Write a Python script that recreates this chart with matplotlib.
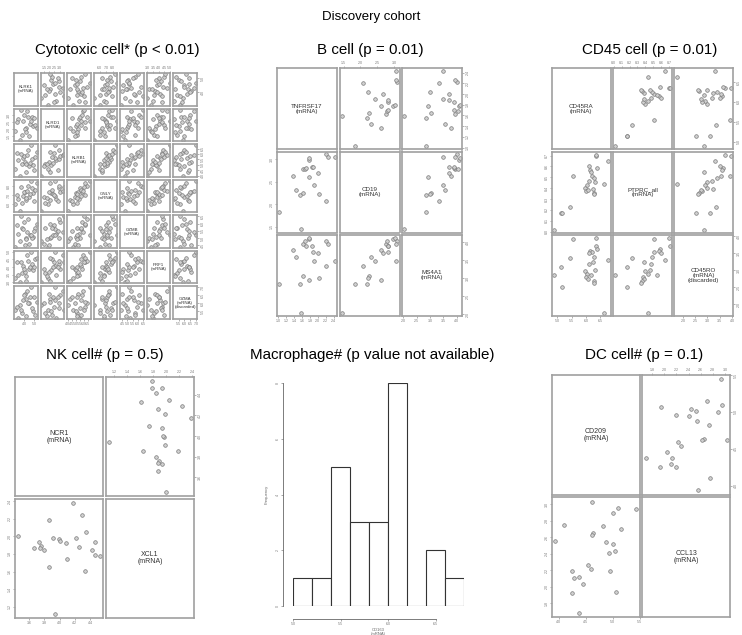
import matplotlib
matplotlib.use('Agg')
import matplotlib.pyplot as plt
from matplotlib.ticker import MultipleLocator, FormatStrFormatter

plt.rcParams['font.family'] = ['Liberation Sans', 'DejaVu Sans']

W, H = 742, 635
TITLE_FS = 10.9

# ── data (arbitrary log-expression units) ───────────────────────────────────
# Cytotoxic cell panel (7 markers)
KLRK1 = [3.6, 3.1, 4.2, 3.8, 4.5, 3.4, 4.9, 3.9, 4.1, 4.6, 3.3, 4.8, 4.0, 5.1, 4.4, 4.3, 5.3, 3.7, 4.7, 4.2, 5.0]
KLRD1 = [1.2, 1.9, 2.1, 1.6, 1.5, 2.7, 2.2, 2.6, 2.0, 2.4, 2.5, 2.9, 3.0, 2.3, 2.9, 3.3, 2.1, 3.4, 2.6, 1.8, 2.8]
KLRB1 = [4.0, 4.6, 4.3, 5.1, 4.9, 5.4, 5.0, 5.6, 5.3, 5.2, 6.1, 5.5, 5.8, 5.7, 6.4, 5.9, 6.2, 6.0, 6.8, 5.1, 4.5]
GNLY  = [5.2, 6.0, 6.4, 6.1, 6.8, 6.6, 7.2, 6.9, 7.4, 7.1, 7.0, 7.8, 7.3, 7.6, 8.0, 7.5, 8.3, 7.9, 8.6, 6.7, 6.3]
GZMB  = [4.8, 4.4, 5.0, 5.7, 4.6, 5.3, 5.1, 5.6, 4.5, 5.2, 5.9, 5.0, 6.1, 5.7, 6.3, 5.4, 6.0, 6.5, 5.2, 4.9, 5.5]
PRF1  = [3.0, 3.3, 3.1, 3.6, 3.9, 3.5, 3.8, 4.1, 3.7, 4.0, 4.3, 4.2, 3.9, 4.5, 4.4, 4.8, 4.6, 4.3, 5.0, 3.4, 4.0]
GZMA  = [5.9, 5.6, 6.3, 5.4, 6.0, 5.1, 5.5, 6.2, 6.6, 6.4, 5.8, 5.7, 6.5, 5.3, 6.0, 6.8, 6.1, 5.6, 7.0, 5.2, 6.4]

# B cell panel
TNFRSF17 = [1.03, 1.37, 1.45, 1.55, 1.59, 1.62, 1.64, 1.68, 1.71, 1.77, 1.77, 1.79, 1.86, 1.89,
            1.90, 2.00, 2.03, 2.20, 2.22, 2.26, 2.43]
CD19     = [1.83, 2.62, 2.32, 2.20, 1.44, 2.77, 2.25, 2.79, 2.81, 2.98, 2.61, 3.02, 2.83, 2.83,
            2.42, 2.68, 2.23, 2.08, 3.10, 3.05, 3.05]
MS4A1    = [2.84, 3.79, 3.58, 2.84, 2.03, 3.95, 3.05, 4.05, 3.91, 4.09, 2.94, 4.12, 3.90, 3.72,
            3.49, 3.70, 3.01, 3.33, 4.03, 3.94, 3.49]

# CD45 cell panel
CD45RA    = [6.36, 5.54, 6.34, 6.37, 6.15, 6.21, 6.09, 6.26, 5.43, 6.23, 6.78, 6.11,
             5.14, 6.30, 5.95, 6.03, 6.18, 4.89, 6.00, 6.07, 6.28, 6.29, 5.15, 6.62]
PTPRC_ALL = [8.70, 8.51, 8.71, 8.59, 8.57, 8.51, 8.60, 8.49, 8.23, 8.39, 8.65, 8.47,
             8.17, 8.46, 8.40, 8.43, 8.55, 8.02, 8.37, 8.38, 8.36, 8.35, 8.17, 8.44]
CD45RO    = [3.95, 3.93, 3.70, 3.63, 3.58, 3.53, 3.51, 3.39, 3.35, 3.24, 3.29, 3.17,
             3.11, 3.00, 2.97, 2.89, 2.86, 2.85, 2.79, 2.73, 2.67, 2.62, 2.52, 1.74]

# NK cell panel
NCR1 = [3.46, 3.66, 3.73, 3.76, 3.74, 3.80, 3.86, 3.86, 3.91, 3.99, 4.00, 4.08,
        3.94, 4.18, 4.10, 4.21, 4.26, 4.29, 4.35, 4.33, 4.42, 4.47, 4.47, 4.53]
XCL1 = [2.00, 1.87, 1.94, 1.89, 1.87, 1.84, 2.19, 1.65, 1.98, 1.97, 1.95, 1.93,
        1.12, 2.38, 1.74, 1.98, 1.88, 2.25, 2.05, 1.61, 1.85, 1.94, 1.79, 1.78]

# DC cell panel
CD209 = [3.94, 4.11, 4.25, 4.25, 4.29, 4.38, 4.38, 4.46, 4.54, 4.60, 4.62, 4.64,
         4.62, 4.83, 4.88, 4.94, 4.96, 5.00, 5.01, 5.04, 5.07, 5.10, 5.15, 5.44]
CCL13 = [2.55, 2.75, 2.19, 1.93, 2.11, 2.12, 1.69, 2.04, 2.27, 2.22, 3.03, 2.65,
         2.63, 2.74, 2.54, 2.41, 2.19, 2.89, 2.52, 2.44, 1.94, 2.95, 2.70, 2.94]

# Macrophage histogram (CD163)
CD163_BIN_EDGES = [5.0, 5.2, 5.4, 5.6, 5.8, 6.0, 6.2, 6.4, 6.6, 6.8]
CD163_COUNTS    = [1, 1, 5, 3, 3, 8, 0, 2, 1]

FRAME_C = '#a0a0a0'


def px_axes(fig, x0, y0, x1, y1):
    # pixel box (top-left origin) -> figure fraction axes
    return fig.add_axes([x0 / W, 1 - y1 / H, (x1 - x0) / W, (y1 - y0) / H])


def px_text(fig, x, y, s, **kw):
    fig.text(x / W, 1 - y / H, s, ha='center', va='center', **kw)


def draw_pairs(fig, box, columns, labels, steps, label_size=4.5, gap=2.5):
    x0, y0, x1, y1 = box
    n = len(columns)
    cw = (x1 - x0 - gap * (n - 1)) / n
    ch = (y1 - y0 - gap * (n - 1)) / n
    lims = []
    for v in columns:
        lo, hi = min(v), max(v)
        pad = 0.04 * (hi - lo)
        lims.append((lo - pad, hi + pad))

    for i in range(n):
        for j in range(n):
            cx = x0 + j * (cw + gap)
            cy = y0 + i * (ch + gap)
            ax = px_axes(fig, cx, cy, cx + cw, cy + ch)
            ax.set_xlim(lims[j])
            ax.set_ylim(lims[i])
            for sp in ax.spines.values():
                sp.set_color(FRAME_C)
                sp.set_linewidth(1.2)
            if i == j:
                ax.text(0.5, 0.5, labels[i], ha='center', va='center',
                        fontsize=label_size, color='#333333', linespacing=1.0,
                        transform=ax.transAxes)
            else:
                ax.plot(columns[j], columns[i], 'o', ms=2.6, mfc='#d0d0d0',
                        mec='#7a7a7a', mew=0.5)
            ax.xaxis.set_major_locator(MultipleLocator(steps[j]))
            ax.yaxis.set_major_locator(MultipleLocator(steps[i]))
            ax.xaxis.set_major_formatter(FormatStrFormatter('%.1f'))
            ax.yaxis.set_major_formatter(FormatStrFormatter('%.1f'))
            ax.tick_params(length=1.5, width=0.4, color='#777777', pad=1,
                           labelsize=2.6, labelcolor='#777777',
                           top=(i == 0 and j % 2 == 1), labeltop=(i == 0 and j % 2 == 1),
                           bottom=(i == n - 1 and j % 2 == 0),
                           labelbottom=(i == n - 1 and j % 2 == 0),
                           left=(j == 0 and i % 2 == 1), labelleft=(j == 0 and i % 2 == 1),
                           right=(j == n - 1 and i % 2 == 0),
                           labelright=(j == n - 1 and i % 2 == 0))
            for lab in ax.get_yticklabels():
                lab.set_rotation(90)
                lab.set_va('center')


fig = plt.figure(figsize=(7.42, 6.35), dpi=100)
fig.patch.set_facecolor('white')

px_text(fig, 371, 17, 'Discovery cohort', fontsize=9.5)

# ── row 1 ──────────────────────────────────────────────────────────────────
px_text(fig, 117, 50, 'Cytotoxic cell* (p < 0.01)', fontsize=TITLE_FS)
draw_pairs(fig, (14, 73, 197, 319),
           [KLRK1, KLRD1, KLRB1, GNLY, GZMB, PRF1, GZMA],
           ['KLRK1\n(mRNA)', 'KLRD1\n(mRNA)', 'KLRB1\n(mRNA)', 'GNLY\n(mRNA)',
            'GZMB\n(mRNA)', 'PRF1\n(mRNA)', 'GZMA\n(mRNA)\n(discarded)'],
           [1.0, 0.5, 0.5, 1.0, 0.5, 0.5, 0.5], label_size=3.2, gap=2.6)

px_text(fig, 370, 50, 'B cell (p = 0.01)', fontsize=TITLE_FS)
draw_pairs(fig, (277, 68, 462, 316), [TNFRSF17, CD19, MS4A1],
           ['TNFRSF17\n(mRNA)', 'CD19\n(mRNA)', 'MS4A1\n(mRNA)'],
           [0.2, 0.5, 0.5])

px_text(fig, 650, 50, 'CD45 cell (p = 0.01)', fontsize=TITLE_FS)
draw_pairs(fig, (552, 68, 733, 316), [CD45RA, PTPRC_ALL, CD45RO],
           ['CD45RA\n(mRNA)', 'PTPRC_all\n(mRNA)', 'CD45RO\n(mRNA)\n(discarded)'],
           [0.5, 0.1, 0.5])

# ── row 2 ──────────────────────────────────────────────────────────────────
px_text(fig, 105, 355, 'NK cell# (p = 0.5)', fontsize=TITLE_FS)
draw_pairs(fig, (15, 377, 194, 618), [NCR1, XCL1],
           ['NCR1\n(mRNA)', 'XCL1\n(mRNA)'], [0.2, 0.2], label_size=5)

px_text(fig, 372, 355, 'Macrophage# (p value not available)', fontsize=TITLE_FS)
axh = px_axes(fig, 293, 383, 464, 606)
axh.bar(CD163_BIN_EDGES[:-1], CD163_COUNTS, width=0.2, align='edge',
        color='white', edgecolor='#333333', linewidth=0.8)
axh.set_xlim(CD163_BIN_EDGES[0], CD163_BIN_EDGES[-1])
axh.set_ylim(0, 8)
axh.set_xticks([5.0, 5.5, 6.0, 6.5])
axh.set_yticks([0, 2, 4, 6, 8])
axh.xaxis.set_major_formatter(FormatStrFormatter('%.1f'))
for side in ('top', 'right'):
    axh.spines[side].set_visible(False)
axh.spines['left'].set_position(('outward', 7))
axh.spines['bottom'].set_position(('outward', 9))
axh.spines['left'].set_bounds(0, 8)
axh.spines['bottom'].set_bounds(5.0, 6.5)
for side in ('left', 'bottom'):
    axh.spines[side].set_color('#666666')
    axh.spines[side].set_linewidth(0.6)
axh.tick_params(length=1.5, width=0.4, color='#666666', pad=1,
                labelsize=2.6, labelcolor='#777777')
for lab in axh.get_yticklabels():
    lab.set_rotation(90)
    lab.set_va('center')
axh.set_ylabel('Frequency', fontsize=3, color='#666666', labelpad=5)
axh.set_xlabel('CD163\n(mRNA)', fontsize=3, color='#666666', labelpad=1.5,
               linespacing=1.0)

px_text(fig, 644, 355, 'DC cell# (p = 0.1)', fontsize=TITLE_FS)
draw_pairs(fig, (552, 375, 730, 617), [CD209, CCL13],
           ['CD209\n(mRNA)', 'CCL13\n(mRNA)'], [0.5, 0.2], label_size=5)

fig.savefig('out.png', dpi=100, facecolor='white')
